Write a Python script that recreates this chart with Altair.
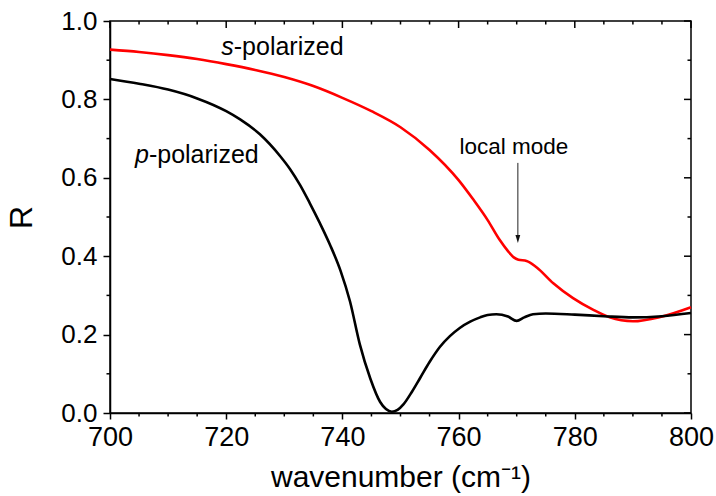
import altair as alt
import pandas as pd

# s-polarized reflectance (red)
wn_s = [700, 705, 710, 715, 720, 725, 730, 735, 740, 745, 750, 755, 760,
        762.5, 765, 767, 768.5, 769.5, 770.3, 771.7, 773.4, 776.3, 779.7, 783.2, 786,
        790, 794.7, 800]
r_s = [0.927, 0.921, 0.913, 0.903, 0.890, 0.875, 0.857, 0.834, 0.804, 0.770, 0.729,
       0.671, 0.594, 0.545, 0.492, 0.443, 0.413, 0.397, 0.391, 0.388, 0.372, 0.331,
       0.293, 0.263, 0.244, 0.234, 0.245, 0.270]

# p-polarized reflectance (black)
wn_p = [700, 705, 710, 715, 720, 722.4, 725.8, 729.3, 731, 732.7, 734.4, 736.1,
        737.9, 739.7, 741.3, 743, 744.8, 746.5, 747.5, 748.5, 749.5, 750.5, 752, 753.4,
        755, 756.8, 758.5, 760.2, 762, 763.7, 765, 766.5, 768.5, 770, 771.3, 772.8,
        775, 780, 785, 790, 795, 800]
r_p = [0.852, 0.840, 0.825, 0.8025, 0.770, 0.749, 0.711, 0.655, 0.622, 0.582, 0.535,
       0.485, 0.428, 0.362, 0.285, 0.175, 0.088, 0.028, 0.010, 0.003, 0.008, 0.022,
       0.055, 0.090, 0.130, 0.169, 0.196, 0.217, 0.233, 0.244, 0.250, 0.252, 0.246,
       0.235, 0.244, 0.252, 0.254, 0.251, 0.247, 0.244, 0.247, 0.255]

x_major = [700, 720, 740, 760, 780, 800]
x_minor = [705, 710, 715, 725, 730, 735, 745, 750, 755, 765, 770, 775, 785, 790, 795]
y_major = [0.0, 0.2, 0.4, 0.6, 0.8, 1.0]
y_minor = [0.1, 0.3, 0.5, 0.7, 0.9]

W, H = 581, 392
FONT = "Liberation Sans"

xs = alt.Scale(domain=[700, 800], nice=False, zero=False)
ys = alt.Scale(domain=[0, 1], nice=False)

AX = alt.Axis(values=x_major, format="d", title="wavenumber (cm⁻¹)", tickSize=6,
              labelPadding=5, labelFontSize=27, labelFlush=False, titlePadding=12,
              titleFontSize=30)
AY = alt.Axis(values=y_major, format=".1f", title="R", tickSize=7, labelPadding=6,
              labelFontSize=26, labelFlush=False, titlePadding=22, titleFontSize=32)

df_s = pd.DataFrame({"wn": wn_s, "R": r_s})
df_p = pd.DataFrame({"wn": wn_p, "R": r_p})
one = pd.DataFrame({"a": [0]})

line_s = alt.Chart(df_s).mark_line(color="#ff0000", strokeWidth=2.6, interpolate="monotone").encode(
    x=alt.X("wn:Q", scale=xs, axis=AX), y=alt.Y("R:Q", scale=ys, axis=AY))
line_p = alt.Chart(df_p).mark_line(color="black", strokeWidth=2.6, interpolate="monotone").encode(
    x=alt.X("wn:Q", scale=xs, axis=AX), y=alt.Y("R:Q", scale=ys, axis=AY))

tick_style = dict(color="black", strokeWidth=1.5)
xmin_df = pd.DataFrame({"v": x_minor})
xmaj_df = pd.DataFrame({"v": x_major})
ymin_df = pd.DataFrame({"v": y_minor})
ymaj_df = pd.DataFrame({"v": y_major})

bottom_minor = alt.Chart(xmin_df).mark_rule(**tick_style).encode(
    x=alt.X("v:Q", scale=xs, axis=AX), y=alt.value(H), y2=alt.value(H + 3.5))
top_major = alt.Chart(xmaj_df).mark_rule(**tick_style).encode(
    x=alt.X("v:Q", scale=xs, axis=AX), y=alt.value(0), y2=alt.value(7))
top_minor = alt.Chart(xmin_df).mark_rule(**tick_style).encode(
    x=alt.X("v:Q", scale=xs, axis=AX), y=alt.value(0), y2=alt.value(3.5))
left_minor = alt.Chart(ymin_df).mark_rule(**tick_style).encode(
    y=alt.Y("v:Q", scale=ys, axis=AY), x=alt.value(0), x2=alt.value(-3.5))
right_major = alt.Chart(ymaj_df).mark_rule(**tick_style).encode(
    y=alt.Y("v:Q", scale=ys, axis=AY), x=alt.value(W), x2=alt.value(W - 7))
right_minor = alt.Chart(ymin_df).mark_rule(**tick_style).encode(
    y=alt.Y("v:Q", scale=ys, axis=AY), x=alt.value(W), x2=alt.value(W - 3.5))

def txt(s, x, y, align, size=25, style="normal"):
    return alt.Chart(one).mark_text(
        text=s, align=align, baseline="alphabetic", fontSize=size, font=FONT,
        fontStyle=style, color="black").encode(
        x=alt.X(datum=x, scale=xs, axis=AX), y=alt.Y(datum=y, scale=ys, axis=AY))

s_it = txt("s", 721.3, 0.913, "right", style="italic")
s_rest = txt("-polarized", 721.3, 0.913, "left")
p_it = txt("p", 706.7, 0.6385, "right", style="italic")
p_rest = txt("-polarized", 706.7, 0.6385, "left")
local = txt("local mode", 769.5, 0.661, "center", size=22.5)

arrow_line = alt.Chart(one).mark_rule(color="#222222", strokeWidth=1).encode(
    x=alt.X(datum=770.2, scale=xs, axis=AX),
    y=alt.Y(datum=0.638, scale=ys, axis=AY),
    y2=alt.Y2(datum=0.452))
arrow_head = alt.Chart(one).mark_point(
    shape="M -0.6 -1 L 0.6 -1 L 0 1 Z", filled=True, size=64, color="#111111", opacity=1).encode(
    x=alt.X(datum=770.2, scale=xs, axis=AX),
    y=alt.Y(datum=0.444, scale=ys, axis=AY))

chart = alt.layer(
    line_s, line_p, bottom_minor, top_major, top_minor, left_minor, right_major, right_minor,
    s_it, s_rest, p_it, p_rest, local, arrow_line, arrow_head
).properties(
    width=W, height=H, autosize="none",
    padding={"left": 110, "top": 21, "right": 25, "bottom": 83},
    background="white",
).configure_view(
    stroke="black", strokeWidth=1.5
).configure_axis(
    labelFont=FONT, titleFont=FONT,
    labelColor="black", titleColor="black", titleFontWeight="normal",
    domainColor="black", domainWidth=1.5, tickColor="black", tickWidth=1.5,
    grid=False,
)

chart.save("out.html", embed_options={"renderer": "svg", "actions": False})
